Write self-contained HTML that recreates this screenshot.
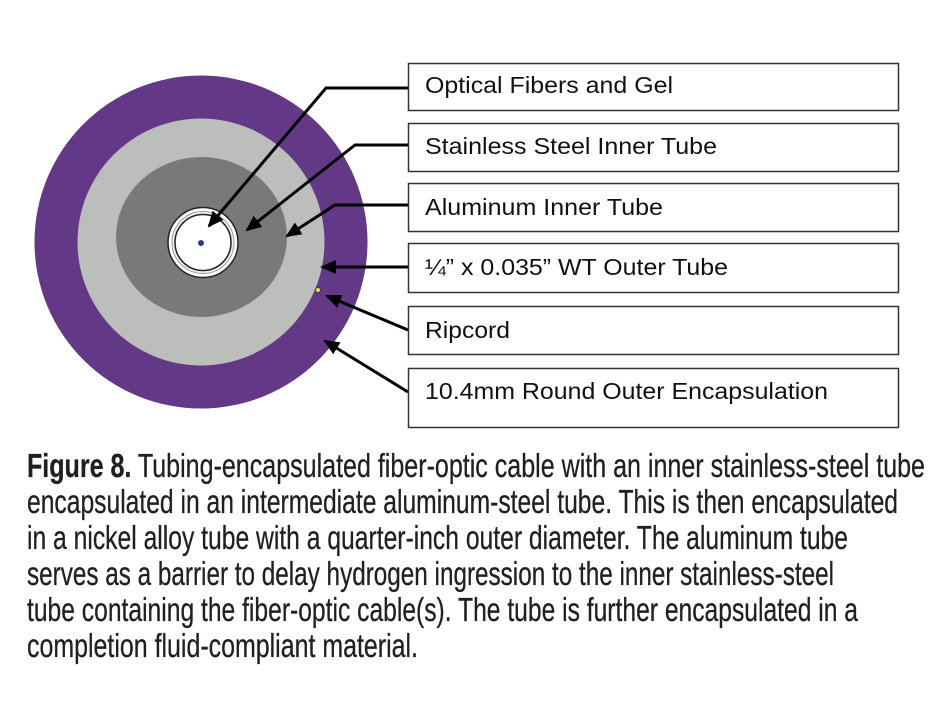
<!DOCTYPE html>
<html><head><meta charset="utf-8"><style>
html,body{margin:0;padding:0;background:#fff;}
svg{display:block;}
</style></head><body>
<svg width="944" height="713" viewBox="0 0 944 713" xmlns="http://www.w3.org/2000/svg">
<defs>
<marker id="ah" markerWidth="16" markerHeight="14" refX="14" refY="7" orient="auto" markerUnits="userSpaceOnUse">
<path d="M0,0 L16,7 L0,14 z" fill="#000"/>
</marker>
</defs>
<circle cx="201" cy="242" r="166.5" fill="#633886"/>
<circle cx="201" cy="242" r="123.5" fill="#bcbebc"/>
<ellipse cx="201.5" cy="237" rx="85.5" ry="80" fill="#787a79"/>
<circle cx="203" cy="242.5" r="35" fill="#fff" stroke="#222" stroke-width="1.5"/>
<circle cx="203" cy="242.5" r="31" fill="#f0f0f0" stroke="#999" stroke-width="1"/>
<circle cx="203" cy="242.5" r="28" fill="#fff" stroke="#222" stroke-width="1.5"/>
<circle cx="201" cy="243" r="3" fill="#2b3a8a"/>
<circle cx="318" cy="290" r="2.5" fill="#e8e040" stroke="#333" stroke-width="0.8"/>

<g stroke="#000" stroke-width="3" fill="none">
<polyline points="408,88 326,88 209,226" marker-end="url(#ah)"/>
<polyline points="408,145 355,145 247,230" marker-end="url(#ah)"/>
<polyline points="408,205 335,205 287,236" marker-end="url(#ah)"/>
<polyline points="408,267 322,267" marker-end="url(#ah)"/>
<polyline points="408,330 327,296" marker-end="url(#ah)"/>
<polyline points="408,392 325,341" marker-end="url(#ah)"/>
</g>

<g fill="#fff" stroke="#333" stroke-width="1.5">
<rect x="408.5" y="63.5" width="490" height="47"/>
<rect x="408.5" y="123.5" width="490" height="48"/>
<rect x="408.5" y="183.5" width="490" height="48"/>
<rect x="408.5" y="243.5" width="490" height="49"/>
<rect x="408.5" y="306.5" width="490" height="48"/>
<rect x="408.5" y="368.5" width="490" height="59"/>
</g>
<g font-family="Liberation Sans, Arial, sans-serif" font-size="23" fill="#111">
<text x="425" y="93" textLength="248" lengthAdjust="spacingAndGlyphs">Optical Fibers and Gel</text>
<text x="425" y="154" textLength="292" lengthAdjust="spacingAndGlyphs">Stainless Steel Inner Tube</text>
<text x="425" y="215" textLength="238" lengthAdjust="spacingAndGlyphs">Aluminum Inner Tube</text>
<text x="425" y="275" textLength="303" lengthAdjust="spacingAndGlyphs">¼” x 0.035” WT Outer Tube</text>
<text x="425" y="338" textLength="85" lengthAdjust="spacingAndGlyphs">Ripcord</text>
<text x="425" y="399" textLength="403" lengthAdjust="spacingAndGlyphs">10.4mm Round Outer Encapsulation</text>
</g>

<g font-family="Liberation Sans Narrow, Liberation Sans, Arial, sans-serif" font-size="33" fill="#231f20" stroke="#231f20" stroke-width="0.3">
<text x="27" y="477" textLength="898" lengthAdjust="spacingAndGlyphs"><tspan font-weight="bold">Figure 8.</tspan> Tubing-encapsulated fiber-optic cable with an inner stainless-steel tube</text>
<text x="27" y="513" textLength="871" lengthAdjust="spacingAndGlyphs">encapsulated in an intermediate aluminum-steel tube. This is then encapsulated</text>
<text x="27" y="549" textLength="821" lengthAdjust="spacingAndGlyphs">in a nickel alloy tube with a quarter-inch outer diameter. The aluminum tube</text>
<text x="27" y="585" textLength="807" lengthAdjust="spacingAndGlyphs">serves as a barrier to delay hydrogen ingression to the inner stainless-steel</text>
<text x="27" y="621" textLength="831" lengthAdjust="spacingAndGlyphs">tube containing the fiber-optic cable(s). The tube is further encapsulated in a</text>
<text x="27" y="657" textLength="391" lengthAdjust="spacingAndGlyphs">completion fluid-compliant material.</text>
</g>
</svg>
</body></html>
